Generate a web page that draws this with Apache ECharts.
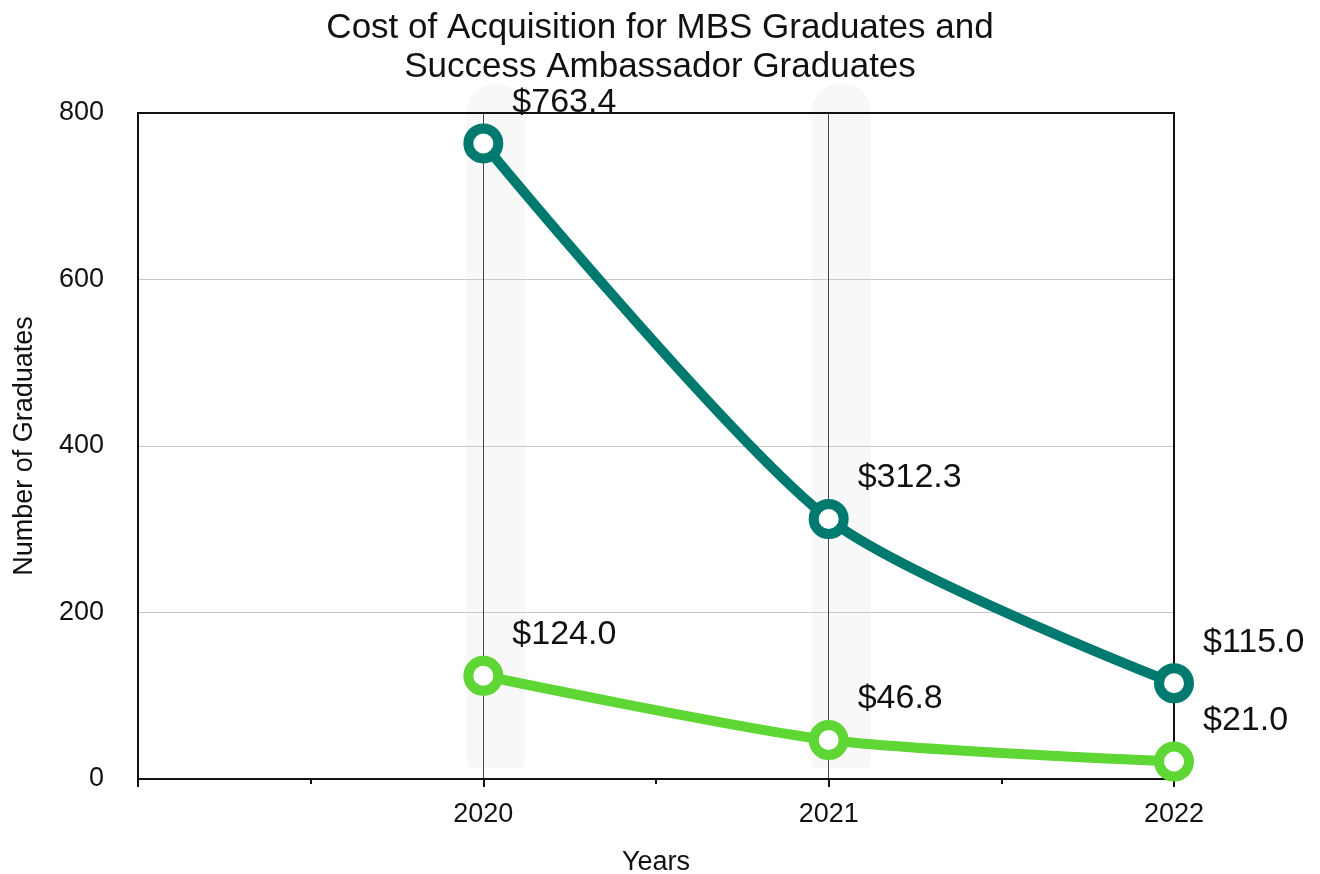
<!DOCTYPE html>
<html>
<head>
<meta charset="utf-8">
<title>Cost of Acquisition</title>
<script src="https://cdn.jsdelivr.net/npm/echarts@6/dist/echarts.min.js"></script>
<style>
  html, body { margin: 0; padding: 0; background: #ffffff; }
  #main { width: 1320px; height: 874px; }
</style>
</head>
<body>
<div id="main"></div>
<script>
// data
const years = [2020, 2021, 2022];
const mbsCost = [763.4, 312.3, 115.0];
const ambassadorCost = [124.0, 46.8, 21.0];
const highlightYears = [2020, 2021];
const yTicks = [0, 200, 400, 600, 800];

const FONT = '"Liberation Sans", Arial, Helvetica, sans-serif';

const chart = echarts.init(document.getElementById('main'));

function pairs(vals) {
  return years.map((y, i) => [y, vals[i]]);
}

const labelCfg = {
  show: true,
  position: 'right',
  distance: 9,
  offset: [0, -41],
  fontSize: 34,
  fontFamily: FONT,
  color: '#111',
  formatter: (p) => '$' + p.value[1].toFixed(1)
};

// plain frame lines for the top and right edges of the plot
const frameAxis = {
  axisLine: { show: true, onZero: false, lineStyle: { color: '#111', width: 2 } },
  axisTick: { show: false },
  axisLabel: { show: false },
  splitLine: { show: false }
};

const option = {
  animation: false,
  backgroundColor: '#ffffff',
  title: {
    text: 'Cost of Acquisition for MBS Graduates and\nSuccess Ambassador Graduates',
    left: 'center',
    top: 4,
    textStyle: { fontSize: 35, fontWeight: 'normal', fontFamily: FONT, color: '#111', lineHeight: 39 }
  },
  grid: {
    left: 138, right: 146, top: 113, bottom: 95,
    outerBoundsMode: 'none',
    containLabel: false
  },
  xAxis: [
    {
      type: 'value',
      min: 2019, max: 2022, interval: 1,
      name: 'Years',
      nameLocation: 'middle',
      nameGap: 70,
      nameTextStyle: { fontSize: 27, fontFamily: FONT, color: '#111' },
      axisLine: { lineStyle: { color: '#111', width: 2 } },
      axisTick: { show: true, length: 8, lineStyle: { color: '#111', width: 2 } },
      minorTick: { show: true, splitNumber: 2, length: 5, lineStyle: { color: '#111', width: 2 } },
      axisLabel: {
        fontSize: 27, fontFamily: FONT, color: '#111', margin: 22,
        formatter: (v) => (years.indexOf(v) >= 0 ? String(v) : '')
      },
      splitLine: { show: true, lineStyle: { color: '#444', width: 1 } }
    },
    Object.assign({ type: 'value', position: 'top', min: 2019, max: 2022 }, frameAxis)
  ],
  yAxis: [
    {
      type: 'value',
      min: yTicks[0], max: yTicks[yTicks.length - 1], interval: 200,
      name: 'Number of Graduates',
      nameLocation: 'middle',
      nameGap: 100,
      nameTextStyle: { fontSize: 27, fontFamily: FONT, color: '#111' },
      axisLine: { show: true, lineStyle: { color: '#111', width: 2 } },
      axisTick: { show: false },
      axisLabel: { fontSize: 27, fontFamily: FONT, color: '#111', margin: 34 },
      splitLine: { show: true, lineStyle: { color: '#c8c8c8', width: 1 } }
    },
    Object.assign({ type: 'value', position: 'right', min: 0, max: 800 }, frameAxis)
  ],
  series: [
    {
      type: 'custom',
      name: 'bands',
      silent: true,
      clip: false,
      z: -1,
      data: highlightYears.map((y) => [y]),
      renderItem: (params, api) => {
        const top = api.coord([api.value(0), 836]);
        const bot = api.coord([api.value(0), 13]);
        return {
          type: 'rect',
          shape: { x: top[0] - 17, y: top[1], width: 59, height: bot[1] - top[1], r: [29, 29, 6, 6] },
          style: { fill: '#f8f8f8' }
        };
      }
    },
    {
      name: 'MBS Graduates',
      type: 'line',
      smooth: 0.25,
      data: pairs(mbsCost),
      symbol: 'circle',
      symbolSize: 30,
      lineStyle: { color: '#007a6e', width: 10 },
      itemStyle: { color: '#ffffff', borderColor: '#007a6e', borderWidth: 10 },
      label: labelCfg,
      z: 3
    },
    {
      name: 'Success Ambassador Graduates',
      type: 'line',
      smooth: 0.25,
      data: pairs(ambassadorCost),
      symbol: 'circle',
      symbolSize: 30,
      lineStyle: { color: '#5ed634', width: 10 },
      itemStyle: { color: '#ffffff', borderColor: '#5ed634', borderWidth: 10 },
      label: labelCfg,
      z: 3
    }
  ]
};

chart.setOption(option);
</script>
</body>
</html>
